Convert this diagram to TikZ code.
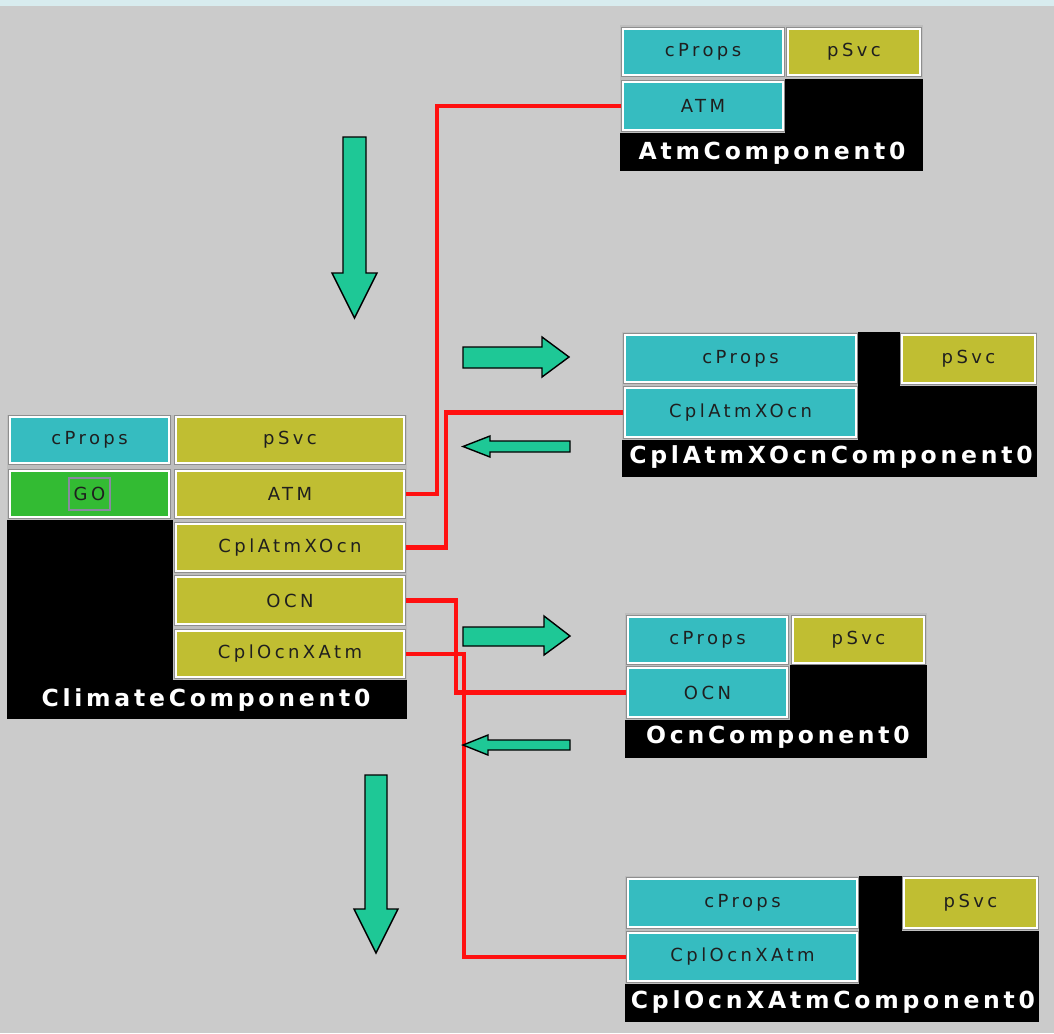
\documentclass[tikz,border=0pt]{standalone}
\usepackage{fontspec}
\setmainfont{DejaVu Sans}
\newfontfamily\cellfont[LetterSpace=19]{DejaVu Sans}
\newfontfamily\titlefont[LetterSpace=16]{DejaVu Sans}

\definecolor{bgcol}{HTML}{CBCBCB}
\definecolor{bandcol}{HTML}{D8ECEF}
\definecolor{cyancell}{HTML}{36BCC0}
\definecolor{olivecell}{HTML}{C0BE32}
\definecolor{gocell}{HTML}{33BB33}
\definecolor{panelgrey}{HTML}{BEBEBE}
\definecolor{edgegrey}{HTML}{8E8E8E}
\definecolor{wirered}{HTML}{FF1010}
\definecolor{flowgreen}{HTML}{1EC896}
\definecolor{goframe}{HTML}{8A8AA0}

\tikzset{
  cellbase/.style={rectangle, inner sep=0pt, outer sep=0pt, draw=white,
    line width=1.1pt, preaction={draw=edgegrey, line width=3.6pt},
    text=black!88, font=\cellfont\fontsize{18}{18}\selectfont},
  cyan/.style={fill=cyancell},
  olive/.style={fill=olivecell},
  go/.style={fill=gocell},
  panel/.style={fill=black},
  greyarea/.style={fill=panelgrey},
  title/.style={text=white, inner sep=0pt, font=\titlefont\bfseries\fontsize{23.5}{23.5}\selectfont},
  wire/.style={draw=wirered, line width=4.8pt},
  flow/.style={fill=flowgreen, draw=black, line width=1.4pt, line join=miter}
}

% cell: name, x1, y1, x2, y2, style, text
\newcommand\cellbox[7]{%
  \node[cellbase,#6,minimum width={(#4-#2)*1pt},minimum height={(#5-#3)*1pt}]
    (#1) at ({(#2+#4)/2},{(#3+#5)/2}) {#7};}

\begin{document}
\begin{tikzpicture}[x=1pt,y=-1pt]
\useasboundingbox (0,0) rectangle (1054,1033);
\fill[bgcol] (0,0) rectangle (1054,1033);
\fill[bandcol] (0,0) rectangle (1054,6);

% ---------- ClimateComponent0 ----------
\fill[panel] (7,415) rectangle (407,719);
\fill[greyarea] (7,415) rectangle (407,520);
\fill[greyarea] (173,520) rectangle (407,680);
\cellbox{cl-cprops}{10}{417}{169}{463}{cyan}{cProps}
\cellbox{cl-psvc}{176}{417}{404}{463}{olive}{pSvc}
\cellbox{cl-go}{10}{471}{169}{517}{go}{GO}
\node[draw=goframe, line width=1.2pt, minimum width=41pt, minimum height=32pt, inner sep=0pt]
  (cl-goframe) at (cl-go.center) {};
\cellbox{cl-atm}{176}{471}{404}{517}{olive}{ATM}
\cellbox{cl-ax}{176}{524}{404}{571}{olive}{CplAtmXOcn}
\cellbox{cl-ocn}{176}{577}{404}{624}{olive}{OCN}
\cellbox{cl-ox}{176}{631}{404}{677}{olive}{CplOcnXAtm}
\node[title] (cl-title) at (206,700) {ClimateComponent0};

% ---------- AtmComponent0 ----------
\fill[panel] (620,25) rectangle (923,171);
\fill[greyarea] (620,25) rectangle (923,79);
\fill[greyarea] (620,79) rectangle (785,133);
\cellbox{atm-cprops}{623}{29}{783}{75}{cyan}{cProps}
\cellbox{atm-psvc}{788}{29}{920}{75}{olive}{pSvc}
\cellbox{atm-atm}{623}{82}{783}{130}{cyan}{ATM}
\node[title] (atm-title) at (772,153) {AtmComponent0};

% ---------- CplAtmXOcnComponent0 ----------
\fill[panel] (622,332) rectangle (1037,477);
\fill[greyarea] (622,332) rectangle (858,440);
\fill[greyarea] (900,332) rectangle (1037,386);
\cellbox{ax-cprops}{625}{335}{856}{382}{cyan}{cProps}
\cellbox{ax-cpl}{625}{388}{856}{437}{cyan}{CplAtmXOcn}
\cellbox{ax-psvc}{902}{335}{1035}{383}{olive}{pSvc}
\node[title] (ax-title) at (831,457) {CplAtmXOcnComponent0};

% ---------- OcnComponent0 ----------
\fill[panel] (625,613) rectangle (927,758);
\fill[greyarea] (625,613) rectangle (927,665);
\fill[greyarea] (625,665) rectangle (790,720);
\cellbox{ocn-cprops}{628}{617}{787}{663}{cyan}{cProps}
\cellbox{ocn-psvc}{793}{617}{924}{663}{olive}{pSvc}
\cellbox{ocn-ocn}{628}{668}{787}{717}{cyan}{OCN}
\node[title] (ocn-title) at (778,737) {OcnComponent0};

% ---------- CplOcnXAtmComponent0 ----------
\fill[panel] (625,876) rectangle (1039,1022);
\fill[greyarea] (625,876) rectangle (859,984);
\fill[greyarea] (902,876) rectangle (1039,931);
\cellbox{ox-cprops}{628}{879}{857}{927}{cyan}{cProps}
\cellbox{ox-cpl}{628}{933}{857}{981}{cyan}{CplOcnXAtm}
\cellbox{ox-psvc}{904}{878}{1037}{928}{olive}{pSvc}
\node[title] (ox-title) at (833,1002) {CplOcnXAtmComponent0};

% ---------- port connections ----------
\draw[wire] ([xshift=2pt]cl-atm.east) -- ++(31,0) |- ([xshift=-2pt]atm-atm.west);
\draw[wire] ([xshift=2pt]cl-ax.east) -- ++(40,0) |- ([xshift=-2pt]ax-cpl.west);
\draw[wire] ([xshift=2pt]cl-ocn.east) -- ++(50,0) |- ([xshift=-2pt]ocn-ocn.west);
\draw[wire] ([xshift=2pt]cl-ox.east) -- ++(58,0) |- ([xshift=-2pt]ox-cpl.west);

% ---------- flow arrows ----------
\draw[flow] (343,137) -- (366,137) -- (366,273) -- (377,273) -- (354.5,318)
  -- (332,273) -- (343,273) -- cycle;
\draw[flow] (365,775) -- (387,775) -- (387,909) -- (398,909) -- (376,953)
  -- (354,909) -- (365,909) -- cycle;
\draw[flow] (463,347) -- (542,347) -- (542,337) -- (569,357) -- (542,377)
  -- (542,368) -- (463,368) -- cycle;
\draw[flow] (570,441) -- (490,441) -- (490,436) -- (463,446.5) -- (490,457)
  -- (490,452) -- (570,452) -- cycle;
\draw[flow] (463,627) -- (544,627) -- (544,616) -- (570,636) -- (544,655)
  -- (544,646) -- (463,646) -- cycle;
\draw[flow] (570,740) -- (488,740) -- (488,735) -- (463,745) -- (488,755)
  -- (488,750) -- (570,750) -- cycle;
\end{tikzpicture}
\end{document}
